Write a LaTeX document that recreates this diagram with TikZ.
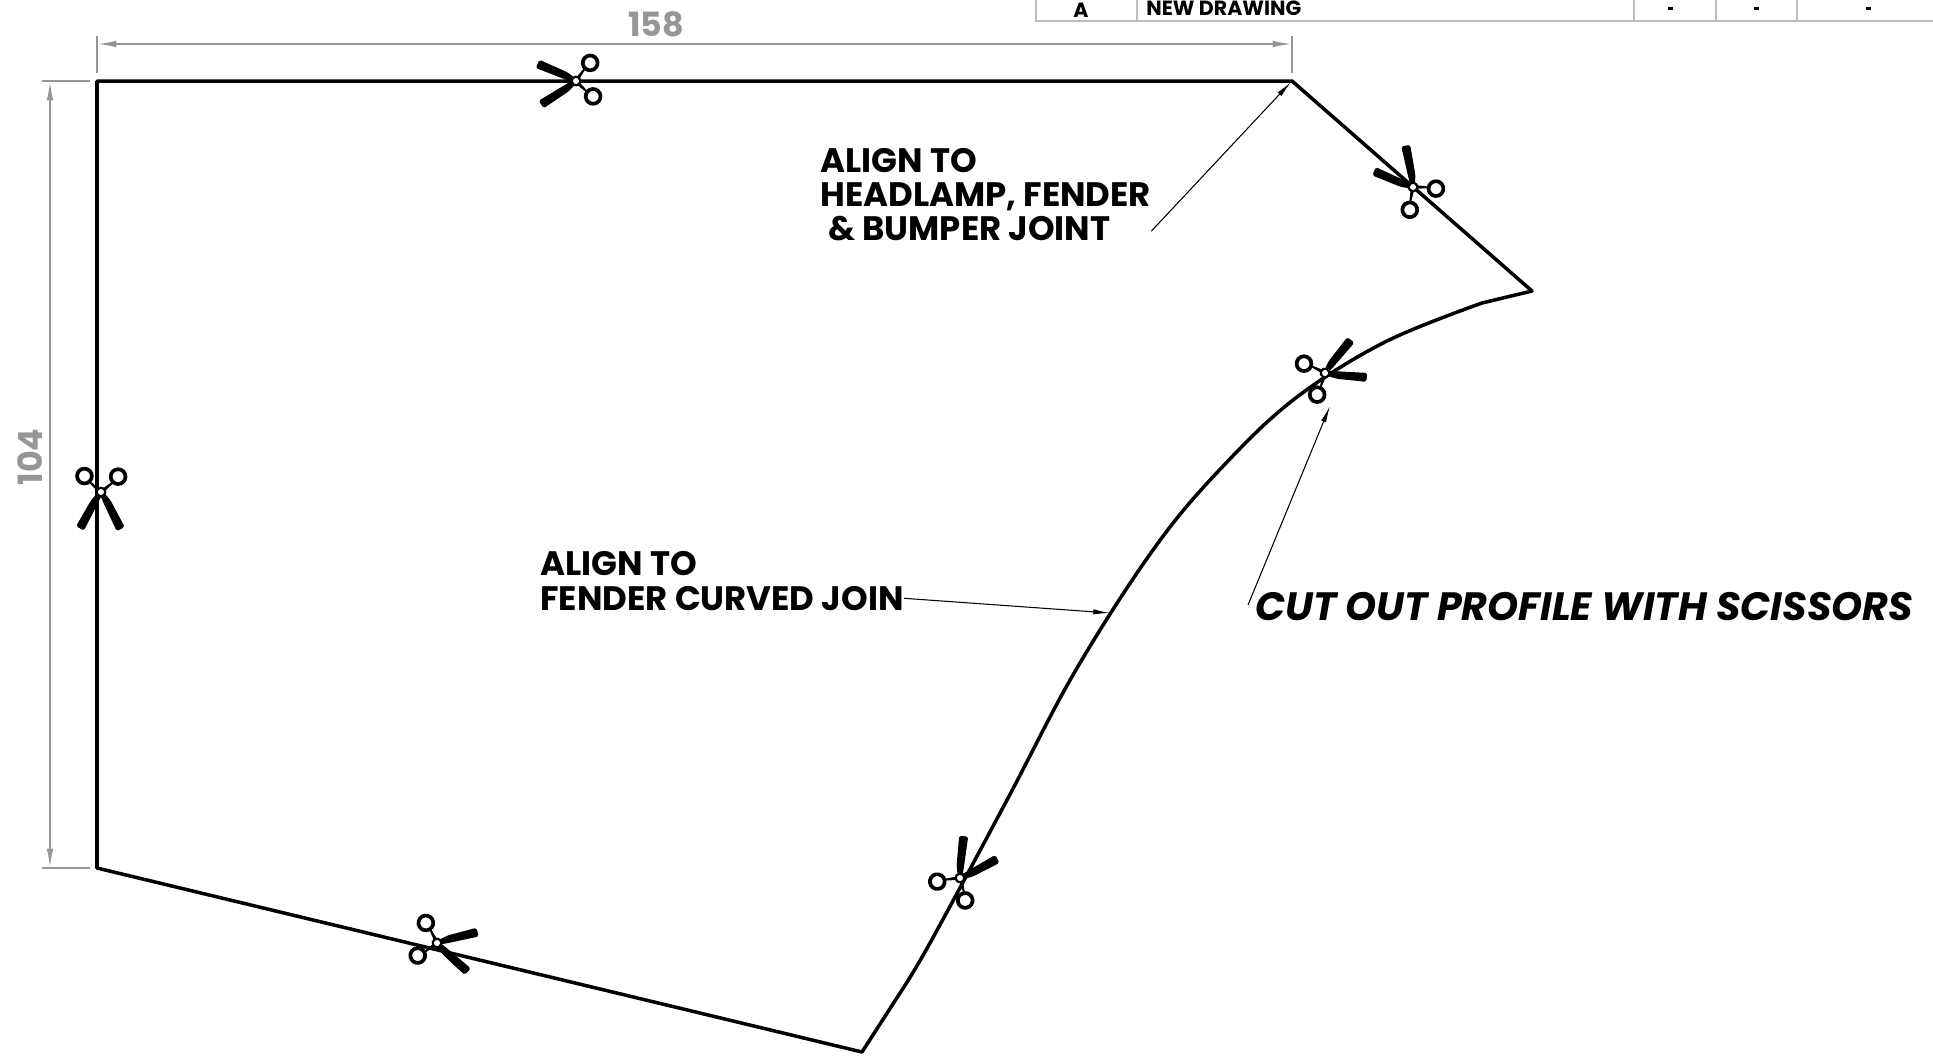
\documentclass[tikz,border=0pt]{standalone}
\usepackage{fontspec}
\setmainfont{Poppins}
\usetikzlibrary{arrows.meta}

\definecolor{dimgray}{RGB}{150,150,150}
\definecolor{tablegray}{RGB}{190,190,190}

\tikzset{
    outline/.style={line width=2pt, line join=round, line cap=round},
    dimline/.style={dimgray, line width=1.1pt},
    dimarrow/.style={dimline, {Latex[length=11pt,width=3.8pt]}-{Latex[length=11pt,width=3.8pt]}},
    leader/.style={line width=0.6pt, -{Latex[length=9.5pt,width=3pt]}},
    calllabel/.style={inner sep=0pt, align=left, font=\fontsize{19.3}{19.4}\selectfont\bfseries},
    dimlabel/.style={inner sep=0pt, text=dimgray, font=\fontsize{19}{19}\selectfont\bfseries},
    tablelabel/.style={inner sep=0pt, font=\fontsize{11.7}{12}\selectfont\bfseries},
    scissors/.pic={
        % blades
        \fill[rotate=29, rounded corners=1pt] (0,-2) -- (12,-4.5) -- (42,-4.5) -- (42,4.5) -- (12,3) -- (0,2) -- cycle;
        \fill[rotate=-29, rounded corners=1pt] (0,-2) -- (12,-3) -- (42,-4.5) -- (42,4.5) -- (12,4.5) -- (0,2) -- cycle;
        % handles
        \fill (0,-3) -- (133:17) -- (127:15) -- (0,3) -- cycle;
        \fill (0,3) -- (-133:17) -- (-127:15) -- (0,-3) -- cycle;
        \draw[line width=2.1pt] (133:23) circle (7.4);
        \draw[line width=2.1pt] (-133:23) circle (7.4);
        % pivot
        \fill (0,0) circle (5.5);
        \fill[white] (0,0) circle (3);
    }
}

\begin{document}
\begin{tikzpicture}[x=0.02cm, y=-0.02cm]
    \useasboundingbox (0,0) rectangle (1933,1056);

    % Revision table cut by the top edge
    \draw[tablegray, line width=0.9pt] (1036,0) -- (1036,21) -- (1940,21);
    \foreach \x in {1137,1634,1716,1797}
        \draw[tablegray, line width=0.7pt] (\x,0) -- (\x,21);
    \node[tablelabel] (rev) at (1081,10) {A};
    \node[tablelabel, anchor=west] (revtext) at (1146,8) {NEW DRAWING};
    \foreach \x in {1670,1756,1868}
        \fill (\x-2.5,6.5) rectangle (\x+2.5,9.5);

    % Outer dimensions
    \draw[dimline] (97,36) -- (97,73);
    \draw[dimline] (1292,36) -- (1292,73);
    \draw[dimline] (42,81) -- (90,81);
    \draw[dimline] (42,868) -- (90,868);
    \draw[dimarrow] (97,44) -- (1292,44);
    \draw[dimarrow] (50,81) -- (50,868);
    \node[dimlabel] (width) at (656,24) {158};
    \node[dimlabel, rotate=90] (height) at (30,457) {104};

    % Cut profile
    \draw[outline] (97,81) -- (1292,81) -- (1532,291) -- plot[smooth, tension=0.6] coordinates {
        (1482,303) (1385,342) (1297,397) (1227,462) (1158,543)
        (1077,668) (1007,800) (930,943) (900,993)
    } -- (862,1052) -- (97,868) -- cycle;

    % Scissors along the profile
    \pic at (576,81) [rotate=185] {scissors};
    \pic at (101,492) [rotate=269] {scissors};
    \pic at (1413,187) [rotate=129] {scissors};
    \pic at (1325,373) [rotate=23] {scissors};
    \pic at (960,878) [rotate=56] {scissors};
    \pic at (437,943) [rotate=-14] {scissors};

    % Callouts
    \coordinate (corner) at (1291,82);
    \coordinate (curve) at (1110,613);
    \coordinate (scissortip) at (1330,406);
    \node[calllabel, anchor=west] (headlamp) at (820,195)
        {ALIGN TO\\HEADLAMP, FENDER\\\hspace{4.5pt}\& BUMPER JOINT};
    \node[calllabel, anchor=west] (fender) at (540,581)
        {ALIGN TO\\FENDER CURVED JOIN};
    \node[inner sep=0pt, anchor=west, font=\fontsize{22.5}{23}\selectfont\bfseries\itshape] (cutout) at (1255,607)
        {CUT OUT PROFILE WITH SCISSORS};
    \draw[leader] ([yshift=6pt]headlamp.south east) -- (corner);
    \draw[leader] ([yshift=7pt]fender.south east) -- (curve);
    \draw[leader] ([shift={(-7,-2)}]cutout.west) -- (scissortip);
\end{tikzpicture}
\end{document}
